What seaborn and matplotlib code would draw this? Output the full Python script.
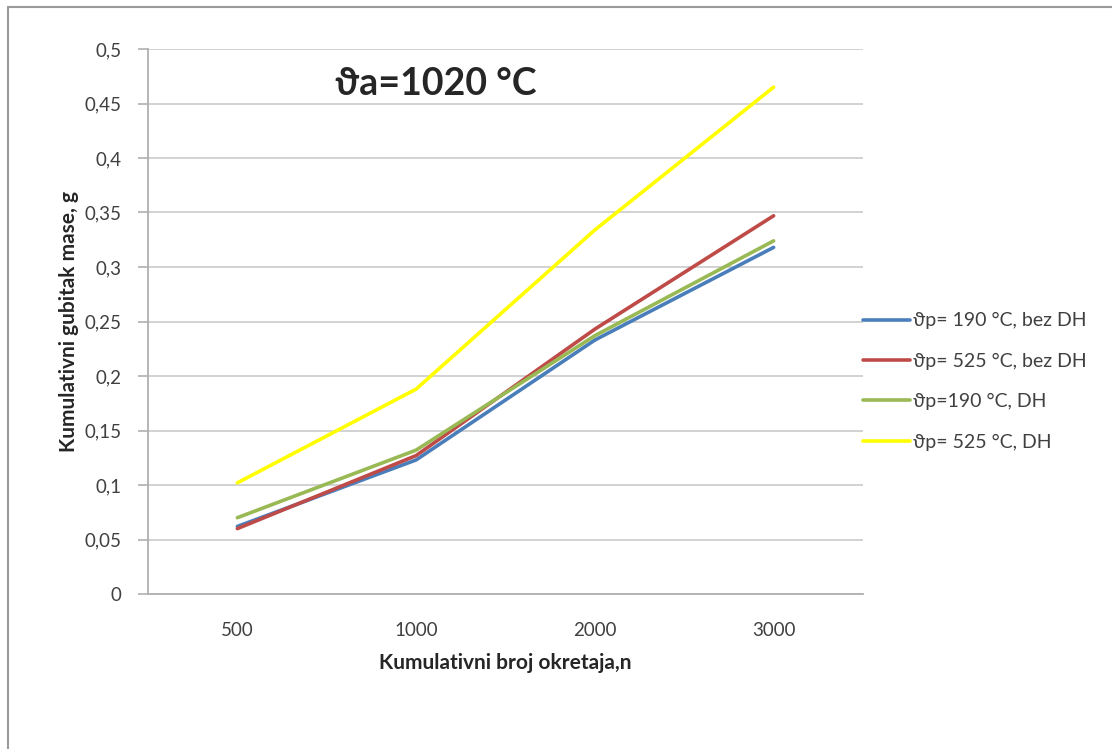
import numpy as np
import pandas as pd
import matplotlib
matplotlib.use("Agg")
from matplotlib import pyplot as plt
from matplotlib.ticker import FuncFormatter, FixedLocator
import seaborn as sns

# ---- Data --------------------------------------------------------------------

revolutions = ["500", "1000", "2000", "3000"]
series_names = [
    "ϑp= 190 °C, bez DH",
    "ϑp= 525 °C, bez DH",
    "ϑp=190 °C, DH",
    "ϑp= 525 °C, DH",
]
loss_190_no_dh = [0.062, 0.123, 0.233, 0.318]
loss_525_no_dh = [0.060, 0.127, 0.243, 0.347]
loss_190_dh = [0.070, 0.132, 0.237, 0.324]
loss_525_dh = [0.102, 0.188, 0.334, 0.465]
colors = ["#4a7ebb", "#be4b48", "#98b954", "#ffff00"]

series_values = [loss_190_no_dh, loss_525_no_dh, loss_190_dh, loss_525_dh]
df = pd.DataFrame({
    "n": revolutions * len(series_names),
    "loss": sum(series_values, []),
    "series": np.repeat(series_names, len(revolutions)),
})

# ---- Plotting ----------------------------------------------------------------

sns.set_style("white")
plt.rcParams["font.family"] = ["Lato", "DejaVu Sans"]

fig = plt.figure(figsize=(11.12, 7.49), dpi=100)
ax = fig.add_axes([148 / 1112, 155 / 749, 715 / 1112, 545 / 749])

sns.lineplot(data=df, x="n", y="loss", hue="series", hue_order=series_names,
             palette=colors, linewidth=2.6, ax=ax, legend=True)

ax.set_xlim(-0.5, 3.5)
ax.set_ylim(0, 0.5)
ax.set_yticks(np.arange(0, 0.501, 0.05))
ax.yaxis.set_major_formatter(FuncFormatter(lambda v, _: f"{v:.2f}".rstrip("0").rstrip(".").replace(".", ",")))
ax.grid(axis="y", color="#cfcfcf", linewidth=1.3)
ax.set_axisbelow(True)

ax.set_xticks(range(len(revolutions)))
ax.set_xticklabels(revolutions)
ax.xaxis.set_minor_locator(FixedLocator(np.arange(-0.5, 3.6, 1.0)))
ax.tick_params(axis="x", which="major", length=0, pad=20, labelsize=13.5, colors="#404040")
ax.tick_params(axis="x", which="minor", length=6, color="#b0b0b0", width=1.2)
ax.tick_params(axis="y", length=7, color="#b0b0b0", width=1.2, labelsize=13.5,
               colors="#404040", left=True, pad=12)

for side in ["top", "right"]:
    ax.spines[side].set_visible(False)
for side in ["left", "bottom"]:
    ax.spines[side].set_color("#b0b0b0")
    ax.spines[side].set_linewidth(1.3)

ax.set_xlabel("Kumulativni broj okretaja,n", fontsize=15, fontweight="bold", labelpad=10)
ax.set_ylabel("Kumulativni gubitak mase, g", fontsize=15, fontweight="bold", labelpad=4)

ax.text(0.262, 0.935, "ϑa=1020 °C", transform=ax.transAxes, fontsize=27,
        fontweight="bold", ha="left", va="center")

leg = ax.legend(loc="center left", bbox_to_anchor=(1.0, 0.39), frameon=False,
                borderaxespad=0, borderpad=0, fontsize=14, handlelength=2.4,
                handletextpad=0.15, labelspacing=1.2)
for line in leg.get_lines():
    line.set_linewidth(2.6)
for t in leg.get_texts():
    t.set_color("#404040")

# outer chart frame
fig.add_artist(plt.Line2D([8 / 1112, 8 / 1112], [0, 1 - 7 / 749], color="#9a9a9a", linewidth=1.5))
fig.add_artist(plt.Line2D([8 / 1112, 1], [1 - 7 / 749, 1 - 7 / 749], color="#9a9a9a", linewidth=1.5))

fig.savefig("out.png", dpi=100)
